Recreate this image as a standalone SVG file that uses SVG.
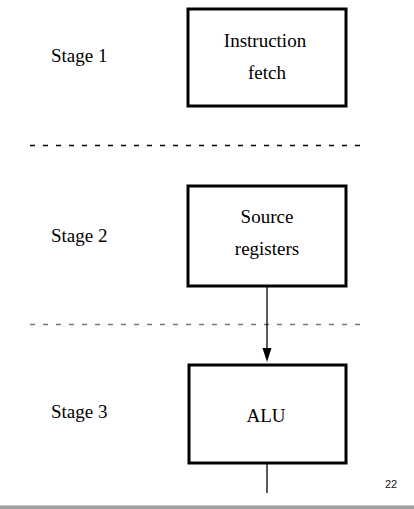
<svg xmlns="http://www.w3.org/2000/svg" width="414" height="509" viewBox="0 0 414 509">
<defs>
<style>
.box{fill:#fff;stroke:#000;stroke-width:3}
.t{font-family:"Liberation Serif","Times New Roman",serif;font-size:19px;fill:#000}
.c{text-anchor:middle}
.dash{stroke-width:1.3;stroke-dasharray:5 8;fill:none}
.wire{stroke:#000;stroke-width:1.3;fill:none}
</style>
<marker id="ah" markerWidth="9" markerHeight="14" refX="9" refY="7" orient="auto" markerUnits="userSpaceOnUse" viewBox="0 0 9 14">
<path d="M0,0 L9,7 L0,14 Z" transform="rotate(0)" fill="#000"/>
</marker>
<marker id="ah2" markerWidth="14" markerHeight="9" refX="7" refY="9" markerUnits="userSpaceOnUse" viewBox="0 0 14 9">
<path d="M3,0 L11,0 L7,13 Z" fill="#000"/>
</marker>
</defs>
<rect width="414" height="509" fill="#fff"/>
<g id="stage-labels">
<text class="t" x="51" y="62">Stage 1</text>
<text class="t" x="51" y="242">Stage 2</text>
<text class="t" x="51" y="418">Stage 3</text>
</g>
<g id="separators">
<line class="dash" x1="30" y1="145.5" x2="368" y2="145.5" stroke="#000"/>
<line class="dash" x1="30" y1="324.5" x2="368" y2="324.5" stroke="#777"/>
</g>
<g id="connectors">
<path class="wire" d="M267,286 V349"/>
<path d="M262.5,348 L271.5,348 L267,362 Z" fill="#000"/>
<path class="wire" d="M267,463 V493"/>
</g>
<g id="instruction-fetch">
<rect class="box" x="188" y="9" width="158" height="97"/>
<text class="t c" x="265" y="47">Instruction</text>
<text class="t c" x="267" y="79">fetch</text>
</g>
<g id="source-registers">
<rect class="box" x="188" y="186" width="158" height="100"/>
<text class="t c" x="267" y="223">Source</text>
<text class="t c" x="267" y="255">registers</text>
</g>
<g id="alu">
<rect class="box" x="189" y="365" width="157" height="98"/>
<text class="t c" x="266" y="422">ALU</text>
</g>
<g id="footer">
<text x="385" y="488" font-family="Liberation Sans, Arial, sans-serif" font-size="11" fill="#111">22</text>
<rect x="0" y="505" width="414" height="4" fill="#a0a0a0"/>
<rect x="0" y="505" width="414" height="1" fill="#c8c8c8"/>
</g>
</svg>
